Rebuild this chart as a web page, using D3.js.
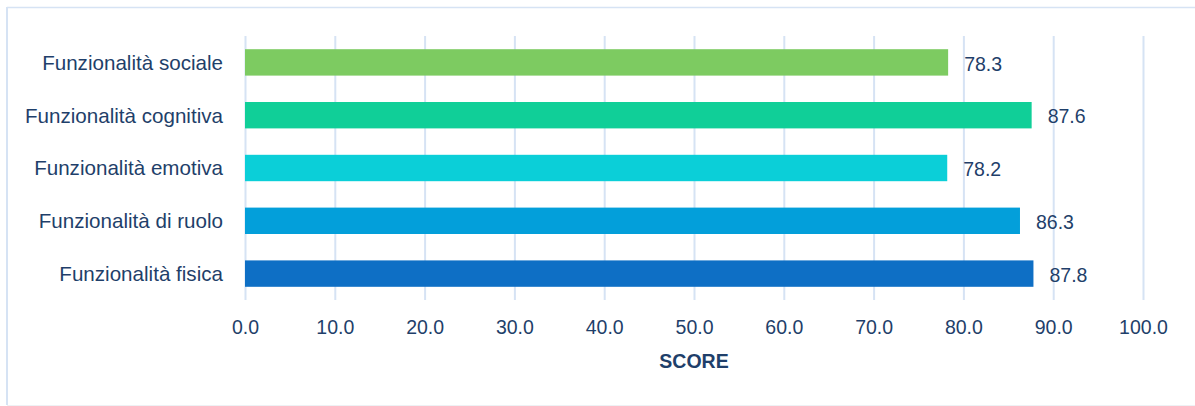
<!DOCTYPE html>
<html>
<head>
<meta charset="utf-8">
<script src="https://cdn.jsdelivr.net/npm/d3@7"></script>
<style>
  html, body { margin: 0; padding: 0; background: #fff; }
  svg { display: block; }
  text { font-family: "Liberation Sans", Arial, sans-serif; fill: #1F3F6A; }
</style>
</head>
<body>
<svg id="chart" width="1195" height="406"></svg>
<script>
// Functional scale scores (0–100), top to bottom
const categories = [
  "Funzionalità sociale",
  "Funzionalità cognitiva",
  "Funzionalità emotiva",
  "Funzionalità di ruolo",
  "Funzionalità fisica"
];
const scores = [78.3, 87.6, 78.2, 86.3, 87.8];
const barColors = ["#7DCB61", "#10CF98", "#0BCFD8", "#039FDA", "#0E6FC5"];
const xTicks = [0, 10, 20, 30, 40, 50, 60, 70, 80, 90, 100];
const axisTitle = "SCORE";

const svg = d3.select("#chart");
const W = 1195, H = 406;

// Panel frame: light blue left and top edges, faint grey bottom
svg.append("line").attr("x1", 7).attr("x2", W).attr("y1", 7.5).attr("y2", 7.5)
  .attr("stroke", "#D6E3F4").attr("stroke-width", 1.5);
svg.append("line").attr("x1", 7).attr("x2", 7).attr("y1", 7).attr("y2", 405)
  .attr("stroke", "#D6E3F4").attr("stroke-width", 2);
svg.append("line").attr("x1", 7).attr("x2", W).attr("y1", 405.5).attr("y2", 405.5)
  .attr("stroke", "#EEF1F4").attr("stroke-width", 1);

const plotTop = 36, plotBottom = 300;
const x = d3.scaleLinear().domain([0, 100]).range([245, 1143]);
const y = d3.scaleBand().domain(categories).range([plotTop, plotBottom])
  .paddingInner(0.5).paddingOuter(0.25);

// Vertical gridlines with tick labels below
const xAxis = d3.axisBottom(x).tickValues(xTicks)
  .tickFormat(d3.format(".1f"))
  .tickSize(-(plotBottom - plotTop)).tickPadding(22);
const gx = svg.append("g").attr("transform", `translate(0,${plotBottom})`).call(xAxis);
gx.select(".domain").remove();
gx.selectAll(".tick line").attr("stroke", "#D6E3F4").attr("stroke-width", 2);
gx.selectAll(".tick text").attr("font-size", 19.5).attr("fill", "#1F3F6A")
  .attr("dy", 0).attr("y", 34);

// Axis title
svg.append("text").attr("x", (x(0) + x(100)) / 2).attr("y", 368)
  .attr("text-anchor", "middle").attr("font-size", 19.5).attr("font-weight", "bold")
  .attr("fill", "#1F3F6A").text(axisTitle);

const rows = categories.map((c, i) => ({ c, v: scores[i], color: barColors[i] }));

// Bars
svg.append("g").selectAll("rect").data(rows).join("rect")
  .attr("x", x(0))
  .attr("y", d => y(d.c))
  .attr("width", d => x(d.v) - x(0))
  .attr("height", y.bandwidth())
  .attr("fill", d => d.color);

// Category labels
svg.append("g").selectAll("text").data(rows).join("text")
  .attr("x", 223)
  .attr("y", d => y(d.c) + y.bandwidth() / 2)
  .attr("dy", "0.36em")
  .attr("text-anchor", "end")
  .attr("font-size", 20.6)
  .text(d => d.c);

// Value labels
svg.append("g").selectAll("text").data(rows).join("text")
  .attr("x", d => x(d.v) + 16)
  .attr("y", d => y(d.c) + y.bandwidth() / 2)
  .attr("dy", "0.42em")
  .attr("font-size", 19.5)
  .text(d => d.v.toFixed(1));
</script>
</body>
</html>
